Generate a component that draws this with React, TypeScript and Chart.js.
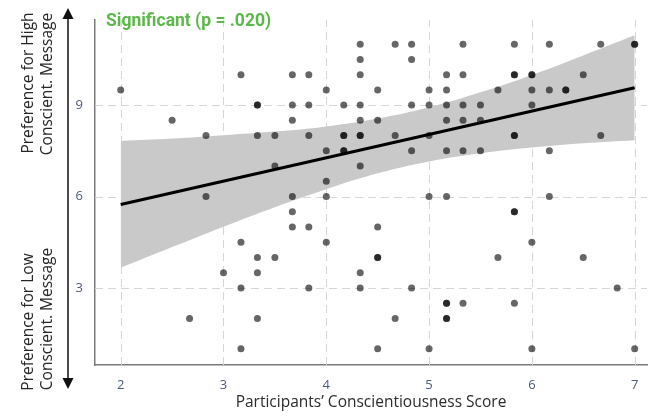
import React, { useEffect, useRef } from "react";
import { Chart, registerables } from "chart.js";

Chart.register(...registerables);

// Participant points (x = conscientiousness score, y = message preference).
// Darker dots in the picture are overlapping participants and are listed twice.
const pointX = [
  2, 2.5, 2.67, 2.83, 2.83, 3,
  3.17, 3.17, 3.17, 3.17,
  3.33, 3.33, 3.33, 3.33, 3.33, 3.33,
  3.5, 3.5, 3.5,
  3.67, 3.67, 3.67, 3.67, 3.67, 3.67,
  3.83, 3.83, 3.83, 3.83, 3.83,
  4, 4, 4, 4, 4,
  4.17, 4.17, 4.17, 4.17, 4.17,
  4.33, 4.33, 4.33, 4.33, 4.33, 4.33, 4.33, 4.33, 4.33, 4.33,
  4.5, 4.5, 4.5, 4.5, 4.5, 4.5,
  4.67, 4.67, 4.67,
  4.83, 4.83, 4.83, 4.83, 4.83,
  5, 5, 5, 5, 5,
  5.17, 5.17, 5.17, 5.17, 5.17, 5.17, 5.17, 5.17, 5.17, 5.17,
  5.33, 5.33, 5.33, 5.33, 5.33, 5.33,
  5.5, 5.5, 5.5,
  5.67, 5.67,
  5.83, 5.83, 5.83, 5.83, 5.83, 5.83, 5.83, 5.83,
  6, 6, 6, 6, 6, 6,
  6.17, 6.17, 6.17, 6.17,
  6.33, 6.33,
  6.5, 6.5,
  6.67, 6.67,
  6.83,
  7, 7, 7,
];
const pointY = [
  9.5, 8.5, 2, 8, 6, 3.5,
  10, 4.5, 3, 1,
  9, 9, 8, 4, 3.5, 2,
  8, 7, 4,
  10, 9, 8.5, 6, 5.5, 5,
  10, 9, 8, 5, 3,
  9.5, 7.5, 6.5, 6, 4.5,
  9, 8, 8, 7.5, 7.5,
  11, 10.5, 10, 9, 8.5, 8, 8, 7, 3.5, 3,
  9.5, 8.5, 5, 4, 4, 1,
  11, 8, 2,
  11, 10.5, 9, 7.5, 3,
  9.5, 9, 8, 6, 1,
  10, 9.5, 9, 8.5, 7.5, 6, 2.5, 2.5, 2, 2,
  11, 10, 9, 8.5, 7.5, 2.5,
  9, 8.5, 7.5,
  9.5, 4,
  11, 10, 10, 8, 8, 5.5, 5.5, 2.5,
  10, 10, 9.5, 9, 4.5, 1,
  11, 9.5, 7.5, 6,
  9.5, 9.5,
  10, 4,
  11, 8,
  3,
  11, 11, 1,
];

// Fitted regression line end points
const fitX = [2, 7];
const fitY = [5.74, 9.57];

// Confidence band
const bandX = [2, 2.5, 3, 3.5, 4, 4.5, 5, 5.5, 6, 6.5, 7];
const bandUpper = [7.82, 7.9, 8.01, 8.13, 8.3, 8.56, 8.93, 9.42, 9.99, 10.63, 11.29];
const bandLower = [3.66, 4.34, 5.01, 5.65, 6.24, 6.76, 7.15, 7.42, 7.61, 7.75, 7.85];

const xTicks = [2, 3, 4, 5, 6, 7];
const yTicks = [3, 6, 9];

const titleText = "Significant (p = .020)";
const xTitle = "Participants\u2019 Conscientiousness Score";
const yTopLines = ["Preference for High", "Conscient. Message"];
const yBottomLines = ["Preference for Low", "Conscient. Message"];

const dashedGrid = {
  id: "dashedGrid",
  beforeDatasetsDraw(chart: any) {
    const ctx = chart.ctx as CanvasRenderingContext2D;
    const { left, right, top, bottom } = chart.chartArea;
    const xs = chart.scales.x;
    const ys = chart.scales.y;
    ctx.save();
    ctx.strokeStyle = "#d6d6d6";
    ctx.lineWidth = 1;
    ctx.setLineDash([8, 5]);
    xTicks.forEach((v) => {
      const px = Math.round(xs.getPixelForValue(v)) + 0.5;
      ctx.beginPath();
      ctx.moveTo(px, bottom);
      ctx.lineTo(px, top);
      ctx.stroke();
    });
    yTicks.forEach((v) => {
      const py = Math.round(ys.getPixelForValue(v)) + 0.5;
      ctx.beginPath();
      ctx.moveTo(left, py);
      ctx.lineTo(right, py);
      ctx.stroke();
    });
    ctx.restore();
  },
};

const annotations = {
  id: "annotations",
  afterDraw(chart: any) {
    const ctx = chart.ctx as CanvasRenderingContext2D;
    ctx.save();
    // significance title
    ctx.font = "bold 17.5px Roboto";
    ctx.fillStyle = "#5cb84a";
    ctx.textAlign = "left";
    ctx.textBaseline = "alphabetic";
    ctx.fillText(titleText, 106, 26);

    // double-headed arrow
    ctx.strokeStyle = "#111";
    ctx.fillStyle = "#111";
    ctx.lineWidth = 1.5;
    ctx.beginPath();
    ctx.moveTo(68, 16);
    ctx.lineTo(68, 381);
    ctx.stroke();
    ctx.beginPath();
    ctx.moveTo(68, 8);
    ctx.lineTo(62.5, 19);
    ctx.lineTo(73.5, 19);
    ctx.closePath();
    ctx.fill();
    ctx.beginPath();
    ctx.moveTo(68, 389);
    ctx.lineTo(62.5, 378);
    ctx.lineTo(73.5, 378);
    ctx.closePath();
    ctx.fill();

    // rotated side labels
    ctx.font = "15.5px 'Open Sans'";
    ctx.fillStyle = "#262626";
    ctx.textAlign = "center";
    ctx.textBaseline = "middle";
    const drawRot = (text: string, x: number, y: number) => {
      ctx.save();
      ctx.translate(x, y);
      ctx.rotate(-Math.PI / 2);
      ctx.fillText(text, 0, 0);
      ctx.restore();
    };
    drawRot(yTopLines[0], 29, 83);
    drawRot(yTopLines[1], 48, 84);
    drawRot(yBottomLines[0], 29, 322);
    drawRot(yBottomLines[1], 48, 319);
    ctx.restore();
  },
};

export default function App() {
  const canvasRef = useRef<HTMLCanvasElement | null>(null);

  useEffect(() => {
    document.body.style.margin = "0";
    const canvas = canvasRef.current;
    if (!canvas) return;

    const points = pointX.map((x, i) => ({ x, y: pointY[i] }));
    const fit = fitX.map((x, i) => ({ x, y: fitY[i] }));
    const upper = bandX.map((x, i) => ({ x, y: bandUpper[i] }));
    const lower = bandX.map((x, i) => ({ x, y: bandLower[i] }));

    const chart = new Chart(canvas, {
      type: "scatter",
      data: {
        datasets: [
          {
            type: "line",
            data: fit,
            borderColor: "#000",
            borderWidth: 3,
            pointRadius: 0,
            fill: false,
            order: 0,
          } as any,
          {
            type: "scatter",
            data: points,
            backgroundColor: "rgba(0,0,0,0.6)",
            borderWidth: 0,
            pointRadius: 3.5,
            order: 1,
          },
          {
            type: "line",
            data: upper,
            borderWidth: 0,
            borderColor: "rgba(0,0,0,0)",
            backgroundColor: "rgb(201,201,201)",
            pointRadius: 0,
            fill: "+1",
            tension: 0.4,
            order: 2,
          } as any,
          {
            type: "line",
            data: lower,
            borderWidth: 0,
            borderColor: "rgba(0,0,0,0)",
            pointRadius: 0,
            fill: false,
            tension: 0.4,
            order: 3,
          } as any,
        ],
      },
      options: {
        animation: false,
        responsive: false,
        maintainAspectRatio: false,
        layout: { padding: { left: 0, top: 10, right: 3, bottom: 0 } },
        plugins: {
          legend: { display: false },
          tooltip: { enabled: false },
        },
        scales: {
          x: {
            type: "linear",
            min: 1.75,
            max: 7.12,
            afterFit: (s: any) => {
              s.height = 51;
            },
            afterBuildTicks: (s: any) => {
              s.ticks = xTicks.map((v) => ({ value: v }));
            },
            grid: { display: false, drawTicks: false },
            border: { display: true, color: "#7a7a7a", width: 1.5 },
            ticks: {
              padding: 12,
              color: "#4a5a78",
              font: { family: "'Open Sans'", size: 13 },
            },
            title: {
              display: true,
              text: xTitle,
              color: "#2b2b2b",
              font: { family: "'Open Sans'", size: 15.5 },
              padding: { top: 0, bottom: 4 },
            },
          },
          y: {
            type: "linear",
            min: 0.47,
            max: 11.8,
            afterFit: (s: any) => {
              s.width = 95;
            },
            afterBuildTicks: (s: any) => {
              s.ticks = yTicks.map((v) => ({ value: v }));
            },
            grid: { display: false, drawTicks: false },
            border: { display: true, color: "#7a7a7a", width: 1.5 },
            ticks: {
              padding: 12,
              color: "#4a5a78",
              font: { family: "'Open Sans'", size: 13 },
            },
          },
        },
      },
      plugins: [dashedGrid, annotations],
    });

    return () => chart.destroy();
  }, []);

  return (
    <div style={{ width: 651, height: 416, position: "relative", background: "#fff" }}>
      <canvas ref={canvasRef} width={651} height={416} style={{ display: "block" }} />
    </div>
  );
}
